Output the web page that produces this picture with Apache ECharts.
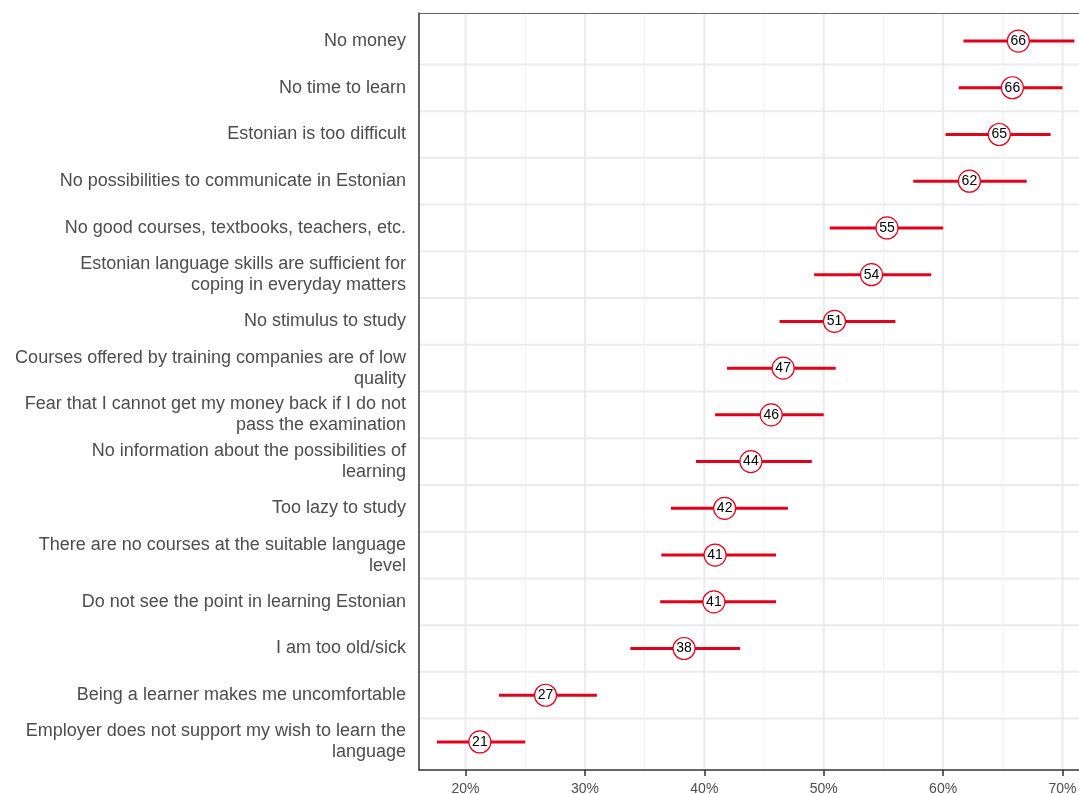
<!DOCTYPE html>
<html><head><meta charset="utf-8">
<script src="https://cdn.jsdelivr.net/npm/echarts@6/dist/echarts.min.js"></script>
<style>html,body{margin:0;padding:0;background:#fff}#c{width:1079px;height:794px}</style>
</head><body><div id="c"></div>
<script>
const categories = [
  "No money",
  "No time to learn",
  "Estonian is too difficult",
  "No possibilities to communicate in Estonian",
  "No good courses, textbooks, teachers, etc.",
  "Estonian language skills are sufficient for\ncoping in everyday matters",
  "No stimulus to study",
  "Courses offered by training companies are of low\nquality",
  "Fear that I cannot get my money back if I do not\npass the examination",
  "No information about the possibilities of\nlearning",
  "Too lazy to study",
  "There are no courses at the suitable language\nlevel",
  "Do not see the point in learning Estonian",
  "I am too old/sick",
  "Being a learner makes me uncomfortable",
  "Employer does not support my wish to learn the\nlanguage"
];
const values = [66.3, 65.8, 64.7, 62.2, 55.3, 54.0, 50.9, 46.6, 45.6, 43.9, 41.7, 40.9, 40.8, 38.3, 26.7, 21.2];
const lower  = [61.7, 61.3, 60.2, 57.5, 50.5, 49.2, 46.3, 41.9, 40.9, 39.3, 37.2, 36.4, 36.3, 33.8, 22.8, 17.6];
const upper  = [71.0, 70.0, 69.0, 67.0, 60.0, 59.0, 56.0, 51.0, 50.0, 49.0, 47.0, 46.0, 46.0, 43.0, 31.0, 25.0];
const pointLabels = [66, 66, 65, 62, 55, 54, 51, 47, 46, 44, 42, 41, 41, 38, 27, 21];
const xTicks = [20, 30, 40, 50, 60, 70];
const xMinorTicks = [25, 35, 45, 55, 65];

const RED = '#e3001b';
const rowPos = categories.map((c, i) => i + 1);
const rowGrid = categories.slice(1).map((c, i) => i + 1.5);

const gridData = [];
rowGrid.forEach(v => gridData.push(['h', v, 2, '#ebebeb']));
xMinorTicks.forEach(v => gridData.push(['v', v, 1, '#f0f0f0']));
xTicks.forEach(v => gridData.push(['v', v, 2, '#ebebeb']));

const X_MIN = 16.1, X_MAX = 71.38;

const chart = echarts.init(document.getElementById('c'));
chart.setOption({
  animation: false,
  textStyle: { fontFamily: 'Liberation Sans, Arial, sans-serif' },
  grid: { left: 419, top: 13, right: 0, bottom: 24, outerBoundsMode: 'none', containLabel: false },
  xAxis: [{
    type: 'value', min: X_MIN, max: X_MAX, position: 'bottom',
    axisLine: { show: true, lineStyle: { color: '#333', width: 1.5 } },
    axisTick: { show: true, length: 6, customValues: xTicks, lineStyle: { color: '#333', width: 1.5 } },
    axisLabel: { customValues: xTicks, formatter: v => v + '%', color: '#4d4d4d', fontSize: 14, margin: 12 },
    splitLine: { show: false }
  }, {
    type: 'value', min: X_MIN, max: X_MAX, position: 'top',
    axisLine: { show: true, lineStyle: { color: '#666', width: 1.2 } },
    axisTick: { show: false }, axisLabel: { show: false }, splitLine: { show: false }
  }],
  yAxis: {
    type: 'value', min: 0.4, max: 16.6, inverse: true,
    axisLine: { show: true, lineStyle: { color: '#333', width: 1.5 } },
    axisTick: { show: false, customValues: rowPos },
    axisLabel: {
      customValues: rowPos,
      formatter: v => categories[Math.round(v) - 1] || '',
      color: '#4d4d4d', fontSize: 18, lineHeight: 21, margin: 13, align: 'right'
    },
    splitLine: { show: false }
  },
  series: [
    {
      type: 'custom', silent: true, z: 0,
      data: gridData,
      renderItem: (params, api) => {
        const cs = params.coordSys;
        const d = gridData[params.dataIndex];
        let shape;
        if (d[0] === 'h') {
          const y = api.coord([20, d[1]])[1];
          shape = { x1: cs.x, y1: y, x2: cs.x + cs.width, y2: y };
        } else {
          const x = api.coord([d[1], 1])[0];
          shape = { x1: x, y1: cs.y, x2: x, y2: cs.y + cs.height };
        }
        return { type: 'line', shape, style: { stroke: d[3], lineWidth: d[2] } };
      }
    },
    {
      type: 'custom', silent: true, z: 2,
      data: categories.map((c, i) => [lower[i], upper[i], i + 1]),
      renderItem: (params, api) => {
        const a = api.coord([api.value(0), api.value(2)]);
        const b = api.coord([api.value(1), api.value(2)]);
        return { type: 'line', shape: { x1: a[0], y1: a[1], x2: b[0], y2: b[1] }, style: { stroke: RED, lineWidth: 3 } };
      }
    },
    {
      type: 'scatter', z: 3, silent: true,
      symbol: 'circle', symbolSize: 22,
      itemStyle: { color: '#fff', borderColor: RED, borderWidth: 1.2, opacity: 1 },
      data: values.map((v, i) => [v, i + 1, pointLabels[i]]),
      label: { show: true, position: 'inside', formatter: p => String(p.value[2]), color: '#000', fontSize: 14 }
    }
  ]
});
</script>
</body></html>
